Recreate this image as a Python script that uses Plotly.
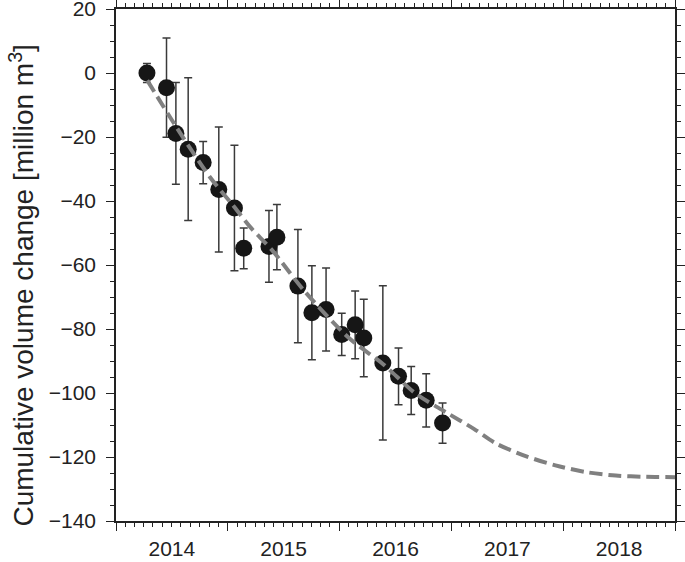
import plotly.graph_objects as go
from datetime import datetime, timedelta

# Observations (decimal year, cumulative volume change, error)
obs_year = [2014.277, 2014.452, 2014.536, 2014.646, 2014.780, 2014.920, 2015.060,
            2015.143, 2015.369, 2015.440, 2015.628, 2015.753, 2015.880, 2016.020,
            2016.140, 2016.217, 2016.387, 2016.527, 2016.640, 2016.774, 2016.920]
obs_value = [0.0, -4.6, -18.9, -23.8, -28.0, -36.4, -42.2,
             -54.8, -54.2, -51.3, -66.6, -74.9, -73.9, -81.7,
             -78.7, -82.8, -90.6, -94.8, -99.2, -102.3, -109.4]
obs_err = [3.0, 15.5, 15.9, 22.3, 6.6, 19.5, 19.6,
           6.4, 11.2, 10.2, 17.7, 14.7, 13.0, 6.6,
           10.6, 12.1, 24.1, 8.9, 7.5, 8.3, 6.3]

# Fitted curve
fit_year = [2014.28, 2014.54, 2014.84, 2015.05, 2015.20, 2015.40, 2015.69, 2016.09,
            2016.39, 2016.68, 2016.95, 2017.20, 2017.40, 2017.67, 2017.93, 2018.20,
            2018.47, 2018.74, 2019.00]
fit_value = [-2.3, -16.9, -32.5, -41.5, -48.1, -55.5, -68.3, -83.0,
             -91.0, -100.2, -106.0, -111.2, -115.8, -119.8, -122.6, -124.7,
             -125.8, -126.2, -126.3]

y_title = "Cumulative volume change [million m<sup>3</sup>]"


def to_date(y):
    yr = int(y)
    start = datetime(yr, 1, 1)
    end = datetime(yr + 1, 1, 1)
    return start + timedelta(seconds=(y - yr) * (end - start).total_seconds())


obs_x = [to_date(v) for v in obs_year]
fit_x = [to_date(v) for v in fit_year]

FONT = "Liberation Sans, Arial, Helvetica, sans-serif"
AX = "#222222"

fig = go.Figure()
fig.add_trace(go.Scatter(
    x=obs_x, y=obs_value, mode="markers",
    marker=dict(size=17, color="#161616", line=dict(width=0)),
    error_y=dict(type="data", array=obs_err, visible=True,
                 color="#3a3a3a", thickness=1.5, width=4),
    showlegend=False))
fig.add_trace(go.Scatter(
    x=fit_x, y=fit_value, mode="lines",
    line=dict(color="#808080", width=4, dash="13px,6px", shape="spline", smoothing=0.8),
    showlegend=False))

fig.update_layout(
    width=685, height=562,
    margin=dict(l=116, r=10, t=9, b=41, autoexpand=False),
    paper_bgcolor="white", plot_bgcolor="white",
    font=dict(family=FONT, size=20, color=AX),
    xaxis=dict(
        type="date", automargin=False,
        range=[datetime(2014, 1, 1), datetime(2019, 1, 1)],
        tick0="2014-01-01", dtick="M12", tickformat="%Y",
        ticklabelmode="period", ticklabeloverflow="allow",
        ticks="outside", ticklen=8, tickwidth=1.3, tickcolor=AX,
        showline=True, linecolor=AX, linewidth=1.5, mirror="allticks",
        showgrid=False, zeroline=False,
        tickfont=dict(size=21),
        minor=dict(dtick="M1", ticks="outside", ticklen=4, tickwidth=1, tickcolor=AX, showgrid=False),
    ),
    yaxis=dict(
        automargin=False,
        range=[-140, 20], tick0=0, dtick=20,
        ticklabeloverflow="allow",
        ticks="outside", ticklen=8, tickwidth=1.3, tickcolor=AX,
        showline=True, linecolor=AX, linewidth=1.5, mirror="allticks",
        showgrid=False, zeroline=False,
        tickfont=dict(size=21),
        ticklabelstandoff=6,
        minor=dict(dtick=5, ticks="outside", ticklen=4, tickwidth=1, tickcolor=AX, showgrid=False),
    ),
    annotations=[dict(
        text=y_title, textangle=-90, showarrow=False,
        xref="paper", yref="paper", x=-0.168, y=0.46,
        xanchor="center", yanchor="middle",
        font=dict(size=28, color=AX),
    )],
)

fig.write_html("out.html", config={"displayModeBar": False},
               post_script="document.body.style.margin='0px';")
